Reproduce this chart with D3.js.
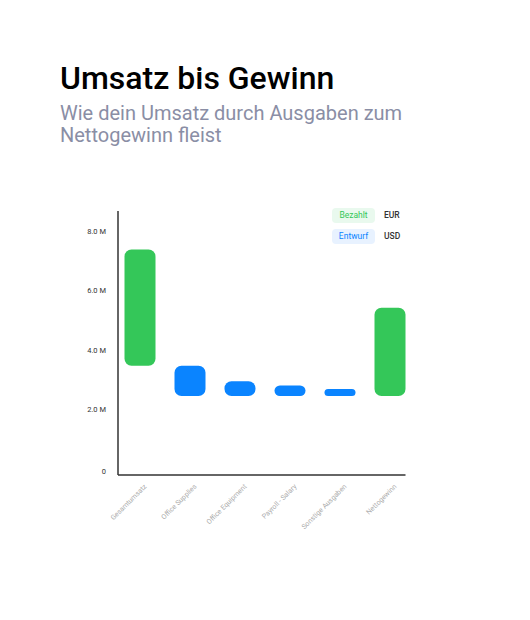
<!DOCTYPE html>
<html>
<head>
<meta charset="utf-8">
<script src="https://cdn.jsdelivr.net/npm/d3@7"></script>
<style>
  body { margin: 0; background: #fff; font-family: Roboto, "Noto Sans", sans-serif; }
</style>
</head>
<body>
<svg id="chart" width="530" height="620"></svg>
<script>
// waterfall steps, values in millions
var categories = ["Gesamtumsatz", "Office Supplies", "Office Equipment", "Payroll - Salary", "Sonstige Ausgaben", "Nettogewinn"];
var barStart = [3.47, 2.45, 2.45, 2.45, 2.45, 2.45];
var barEnd = [7.38, 3.47, 2.95, 2.81, 2.69, 5.42];
var barStatus = ["Bezahlt", "Entwurf", "Entwurf", "Entwurf", "Entwurf", "Bezahlt"];
var yTicks = [0, 2, 4, 6, 8];
var legendItems = ["Bezahlt", "Entwurf"];
var legendCurrency = ["EUR", "USD"];

var fill = {Bezahlt: "#34c759", Entwurf: "#0a84ff"};
var pillBg = {Bezahlt: "#e9f9ee", Entwurf: "#e8f2ff"};

var svg = d3.select("#chart");

svg.append("text")
	.attr("x", 60).attr("y", 89)
	.attr("font-size", 32).attr("font-weight", 500).attr("fill", "#000")
	.text("Umsatz bis Gewinn");

var sub = svg.append("text")
	.attr("x", 60).attr("y", 120)
	.attr("font-size", 20).attr("fill", "#8a8ea5");
sub.append("tspan").attr("x", 60).text("Wie dein Umsatz durch Ausgaben zum");
sub.append("tspan").attr("x", 60).attr("dy", 22).text("Nettogewinn fleist");

var x = d3.scaleBand()
	.domain(categories)
	.range([115, 415])
	.paddingInner(0.38)
	.paddingOuter(0.19);

var y = d3.scaleLinear()
	.domain([0, 8])
	.range([469, 231]);

var axisX = 118, axisBottom = 475, axisTop = 211;

// y labels (no tick marks)
svg.append("g").selectAll("text")
	.data(yTicks)
	.join("text")
	.attr("x", 106)
	.attr("y", function (d) { return d === 0 ? y(d) + 2 : y(d); })
	.attr("dy", "0.35em")
	.attr("text-anchor", "end")
	.attr("font-size", 7.5)
	.attr("fill", "#333")
	.text(function (d) { return d === 0 ? "0" : d.toFixed(1) + " M"; });

// bars
svg.append("g").selectAll("rect")
	.data(categories)
	.join("rect")
	.attr("x", function (d) { return x(d); })
	.attr("width", x.bandwidth())
	.attr("y", function (d, i) { return y(barEnd[i]); })
	.attr("height", function (d, i) { return y(barStart[i]) - y(barEnd[i]); })
	.attr("rx", function (d, i) { return Math.min(7, (y(barStart[i]) - y(barEnd[i])) / 2); })
	.attr("fill", function (d, i) { return fill[barStatus[i]]; });

// axes lines
svg.append("line")
	.attr("x1", axisX).attr("x2", axisX)
	.attr("y1", axisTop).attr("y2", axisBottom)
	.attr("stroke", "#333").attr("stroke-width", 1.5);
svg.append("line")
	.attr("x1", axisX).attr("x2", x(categories[categories.length - 1]) + x.bandwidth())
	.attr("y1", axisBottom).attr("y2", axisBottom)
	.attr("stroke", "#333").attr("stroke-width", 1.5);

// x labels, rotated
svg.append("g").selectAll("text")
	.data(categories)
	.join("text")
	.attr("transform", function (d) {
		return "translate(" + (x(d) + x.bandwidth() / 2 + 7) + "," + 487 + ") rotate(-45)";
	})
	.attr("text-anchor", "end")
	.attr("font-size", 7)
	.attr("fill", "#aaa")
	.text(function (d) { return d; });

// legend
var legend = svg.append("g").selectAll("g")
	.data(legendItems)
	.join("g")
	.attr("transform", function (d, i) { return "translate(332," + (208 + i * 21) + ")"; });

legend.append("rect")
	.attr("width", 43).attr("height", 15).attr("rx", 4)
	.attr("fill", function (d) { return pillBg[d]; });
legend.append("text")
	.attr("x", 21.5).attr("y", 7.5).attr("dy", "0.35em")
	.attr("text-anchor", "middle")
	.attr("font-size", 8.5)
	.attr("fill", function (d) { return fill[d]; })
	.text(function (d) { return d; });
legend.append("text")
	.attr("x", 52).attr("y", 7.5).attr("dy", "0.35em")
	.attr("font-size", 8.5)
	.attr("font-weight", 500)
	.attr("fill", "#333")
	.text(function (d, i) { return legendCurrency[i]; });
</script>
</body>
</html>
